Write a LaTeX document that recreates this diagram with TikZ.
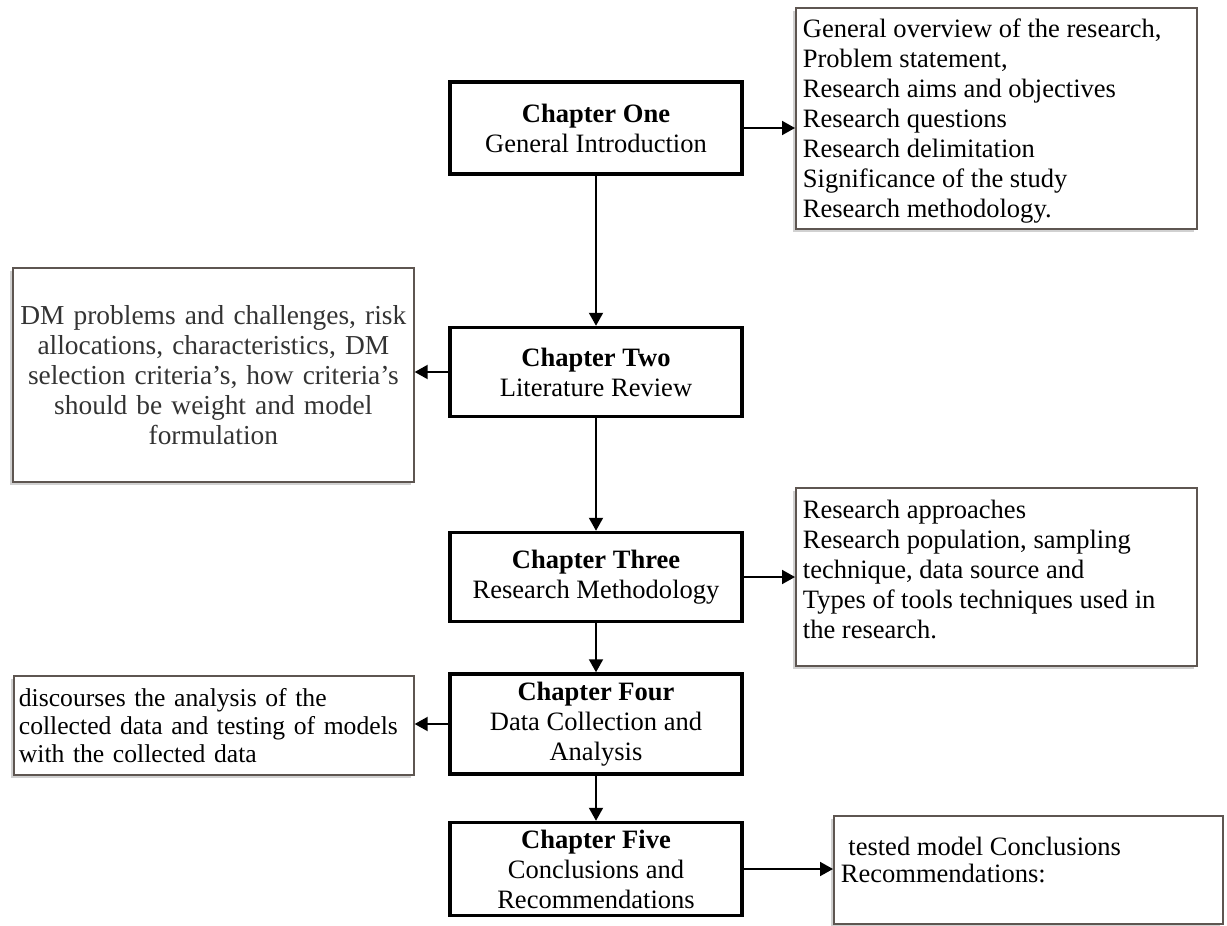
\documentclass[tikz,border=0pt]{standalone}
\usepackage{fontspec}
\setmainfont{Liberation Serif}
\usetikzlibrary{arrows.meta, shadows, positioning}
\definecolor{boxline}{HTML}{5E5651}
% text block pinned to the top of a fixed-size box
\newcommand{\toptext}[3]{\parbox[c][#2][t]{#1}{\raggedright #3}}

\tikzset{
  chapter/.style={draw, line width=2pt, minimum width=5.84cm, minimum height=1.78cm,
    align=center, inner sep=2pt, fill=white},
  note/.style={draw=boxline, line width=1pt, fill=white, inner sep=0pt, anchor=north west,
    drop shadow={shadow xshift=-0.06cm, shadow yshift=-0.06cm, fill=black!40, opacity=0.45}},
  flow/.style={-{Triangle[length=0.26cm, width=0.28cm]}, line width=1.1pt}
}

\begin{document}
\begin{tikzpicture}[x=0.02cm, y=-0.02cm, font=\fontsize{15.1}{17.1}\selectfont]
  \useasboundingbox (0,0) rectangle (1227,926);
  % chapter boxes
  \node[chapter, minimum height=1.84cm] (ch1) at (596,128) {\textbf{Chapter One}\\General Introduction};
  \node[chapter] (ch2) at (596,372) {\textbf{Chapter Two}\\Literature Review};
  \node[chapter] (ch3) at (596,577) {\textbf{Chapter Three}\\Research Methodology};
  \node[chapter, minimum height=2cm] (ch4) at (596,724) {\textbf{Chapter Four}\\Data Collection and\\Analysis};
  \node[chapter, minimum height=1.86cm] (ch5) at (596,869) {\textbf{Chapter Five}\\Conclusions and\\Recommendations};
  % side notes, right
  \node[note, inner xsep=0.14cm, inner ysep=0.22cm] (r1) at (795,7)
    {\toptext{7.74cm}{3.98cm}{General overview of the research,\\Problem statement,\\Research aims and objectives\\Research questions\\Research delimitation\\Significance of the study\\Research methodology.}};
  \node[note, inner xsep=0.14cm, inner ysep=0.24cm] (r2) at (795,487)
    {\toptext{7.74cm}{3.08cm}{Research approaches\\Research population, sampling\\technique, data source and\\Types of tools techniques used in\\the research.}};
  \node[note, inner xsep=0.14cm, inner ysep=0.42cm, font=\fontsize{15.1}{15.5}\selectfont] (r3) at (833,815)
    {\toptext{7.5cm}{1.32cm}{\hspace{0.15cm}tested model Conclusions\\Recommendations:}};
  % side notes, left
  \node[note, text width=7.9cm, align=center, minimum width=8.02cm, minimum height=4.28cm, text=black!80,
    font=\fontsize{15.6}{17.1}\selectfont] (l1) at (12,267)
    {DM problems and challenges, risk\\allocations, characteristics, DM\\selection criteria's, how criteria's\\should be weight and model\\formulation};
  \node[note, text width=7.8cm, align=left, inner xsep=0.1cm, minimum height=1.98cm,
    font=\fontsize{14.6}{16}\selectfont] (l2) at (13,675)
    {discourses the analysis of the\\collected data and testing of models\\with the collected data};
  % connectors
  \draw[flow] (ch1) -- (ch2);
  \draw[flow] (ch1.east) -- (ch1.east -| r1.west);
  \draw[flow] (ch2.west) -- (ch2.west -| l1.east);
  \draw[flow] (ch2) -- (ch3);
  \draw[flow] (ch3.east) -- (ch3.east -| r2.west);
  \draw[flow] (ch3) -- (ch4);
  \draw[flow] (ch4.west) -- (ch4.west -| l2.east);
  \draw[flow] (ch4) -- (ch5);
  \draw[flow] (ch5.east) -- (ch5.east -| r3.west);
\end{tikzpicture}
\end{document}
